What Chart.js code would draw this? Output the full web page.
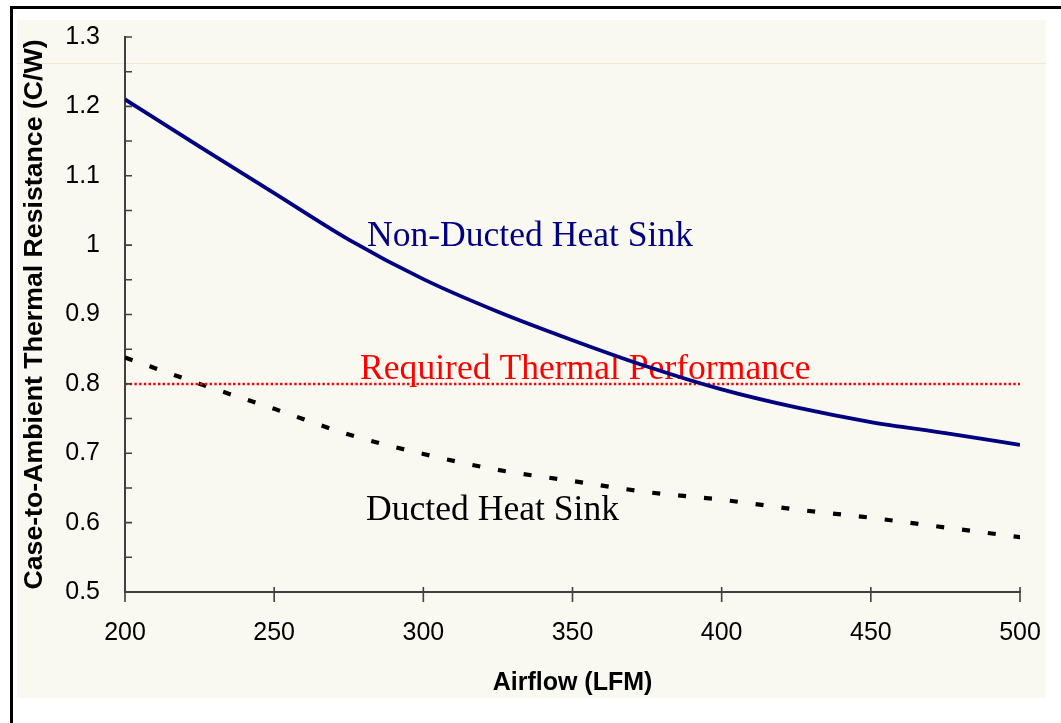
<!DOCTYPE html>
<html>
<head>
<meta charset="utf-8">
<script src="https://cdn.jsdelivr.net/npm/chart.js@4/dist/chart.umd.min.js"></script>
<style>
  html, body { margin: 0; padding: 0; background: #ffffff; }
  #wrap { width: 1061px; height: 723px; }
</style>
</head>
<body>
<div id="wrap"><canvas id="c" width="1061" height="723"></canvas></div>
<script>
// ---- data ----
const airflow    = [200, 225, 250, 275, 300, 325, 350, 375, 400, 425, 450, 475, 500];
const nonDucted  = [1.210, 1.142, 1.075, 1.008, 0.951, 0.904, 0.863, 0.825, 0.792, 0.766, 0.745, 0.729, 0.712];
const ducted     = [0.838, 0.800, 0.764, 0.727, 0.699, 0.676, 0.660, 0.644, 0.633, 0.619, 0.607, 0.593, 0.579];
const requiredX  = [200, 500];
const requiredY  = [0.8, 0.8];
const xTickLabels = ['200', '250', '300', '350', '400', '450', '500'];
const yTickLabels = ['0.5', '0.6', '0.7', '0.8', '0.9', '1', '1.1', '1.2', '1.3'];
const seriesNames = ['Non-Ducted Heat Sink', 'Required Thermal Performance', 'Ducted Heat Sink'];

const toPts = (xs, ys) => xs.map((x, i) => ({ x: x, y: ys[i] }));

const W = 1061, H = 723;
const AXIS = '#404040';

const bgPlugin = {
  id: 'bg',
  beforeDraw(chart) {
    const c = chart.ctx;
    c.save();
    c.fillStyle = '#ffffff';
    c.fillRect(0, 0, W, H);
    c.fillStyle = '#f9f9f2';
    c.fillRect(17, 20, 1029, 678);
    // faint horizontal streak
    c.fillStyle = 'rgba(230,215,170,0.45)';
    c.fillRect(17, 63, 1029, 1);
    // frame (top and left)
    c.fillStyle = '#000000';
    c.fillRect(10, 6, W - 10, 3);
    c.fillRect(10, 6, 3, H - 6);
    c.restore();
  }
};

const labelPlugin = {
  id: 'seriesLabels',
  beforeDatasetsDraw(chart) {
    const c = chart.ctx, xs = chart.scales.x, ys = chart.scales.y;
    const items = [
      { text: seriesNames[0], x: 281.1, y: 0.999, color: '#000080' },
      { text: seriesNames[1], x: 278.8, y: 0.807, color: '#ff0000' },
      { text: seriesNames[2], x: 280.8, y: 0.604, color: '#000000' }
    ];
    c.save();
    c.font = '35.6px "Liberation Serif", "Times New Roman", serif';
    c.textAlign = 'left';
    c.textBaseline = 'alphabetic';
    items.forEach(it => {
      c.fillStyle = it.color;
      c.fillText(it.text, xs.getPixelForValue(it.x), ys.getPixelForValue(it.y));
    });
    c.restore();
  }
};

const tickPlugin = {
  id: 'tickMarks',
  afterDraw(chart) {
    const c = chart.ctx, xs = chart.scales.x, ys = chart.scales.y;
    c.save();
    c.strokeStyle = AXIS;
    c.lineWidth = 1.6;
    c.beginPath();
    ys.ticks.forEach(t => {
      const y = ys.getPixelForValue(t.value);
      c.moveTo(ys.right, y);
      c.lineTo(ys.right + 7, y);
    });
    xs.ticks.forEach(t => {
      const x = xs.getPixelForValue(t.value);
      c.moveTo(x, xs.top - 5);
      c.lineTo(x, xs.top + 10);
    });
    c.stroke();
    c.restore();
  }
};

new Chart(document.getElementById('c'), {
  type: 'line',
  data: {
    datasets: [
      {
        label: seriesNames[0],
        data: toPts(airflow, nonDucted),
        borderColor: '#000080',
        borderWidth: 3.8,
        pointRadius: 0,
        cubicInterpolationMode: 'monotone',
        fill: false
      },
      {
        label: seriesNames[1],
        data: toPts(requiredX, requiredY),
        borderColor: '#ff0000',
        borderWidth: 2.5,
        borderDash: [2.4, 2.3],
        pointRadius: 0,
        fill: false
      },
      {
        label: seriesNames[2],
        data: toPts(airflow, ducted),
        borderColor: '#000000',
        borderWidth: 4.2,
        borderDash: [8, 18],
        borderCapStyle: 'butt',
        pointRadius: 0,
        cubicInterpolationMode: 'monotone',
        fill: false
      }
    ]
  },
  options: {
    responsive: false,
    animation: false,
    devicePixelRatio: 1,
    layout: { padding: { left: 0, top: 37, right: 41, bottom: 0 } },
    plugins: {
      legend: { display: false },
      tooltip: { enabled: false },
      title: { display: false }
    },
    scales: {
      x: {
        type: 'linear',
        min: 200,
        max: 500,
        afterFit(s) { s.height = 131; },
        ticks: {
          stepSize: 50,
          color: '#000000',
          font: { family: '"Liberation Sans", Arial, sans-serif', size: 25 },
          padding: 0,
          maxRotation: 0,
          callback: (v) => xTickLabels[Math.round((v - 200) / 50)] ?? ''
        },
        grid: { display: true, drawOnChartArea: false, drawTicks: true, tickLength: 26, tickColor: 'rgba(0,0,0,0)' },
        border: { display: true, color: AXIS, width: 2 },
        title: {
          display: true,
          text: 'Airflow (LFM)',
          color: '#000000',
          font: { family: '"Liberation Sans", Arial, sans-serif', size: 25, weight: 'bold' },
          padding: { top: 0, bottom: 25 }
        }
      },
      y: {
        type: 'linear',
        min: 0.5,
        max: 1.3,
        afterFit(s) { s.width = 125; },
        ticks: {
          stepSize: 0.05,
          autoSkip: false,
          color: '#000000',
          font: { family: '"Liberation Sans", Arial, sans-serif', size: 25 },
          padding: 0,
          callback: (v) => {
            const k = Math.round(v * 100);
            return k % 10 === 0 ? yTickLabels[(k - 50) / 10] : '';
          }
        },
        grid: { display: true, drawOnChartArea: false, drawTicks: true, tickLength: 25, tickColor: 'rgba(0,0,0,0)' },
        border: { display: true, color: AXIS, width: 2 },
        title: {
          display: true,
          text: 'Case-to-Ambient Thermal Resistance (C/W)',
          color: '#000000',
          font: { family: '"Liberation Sans", Arial, sans-serif', size: 26.7, weight: 'bold' },
          padding: { top: 19, bottom: 0 }
        }
      }
    }
  },
  plugins: [bgPlugin, labelPlugin, tickPlugin]
});
</script>
</body>
</html>
